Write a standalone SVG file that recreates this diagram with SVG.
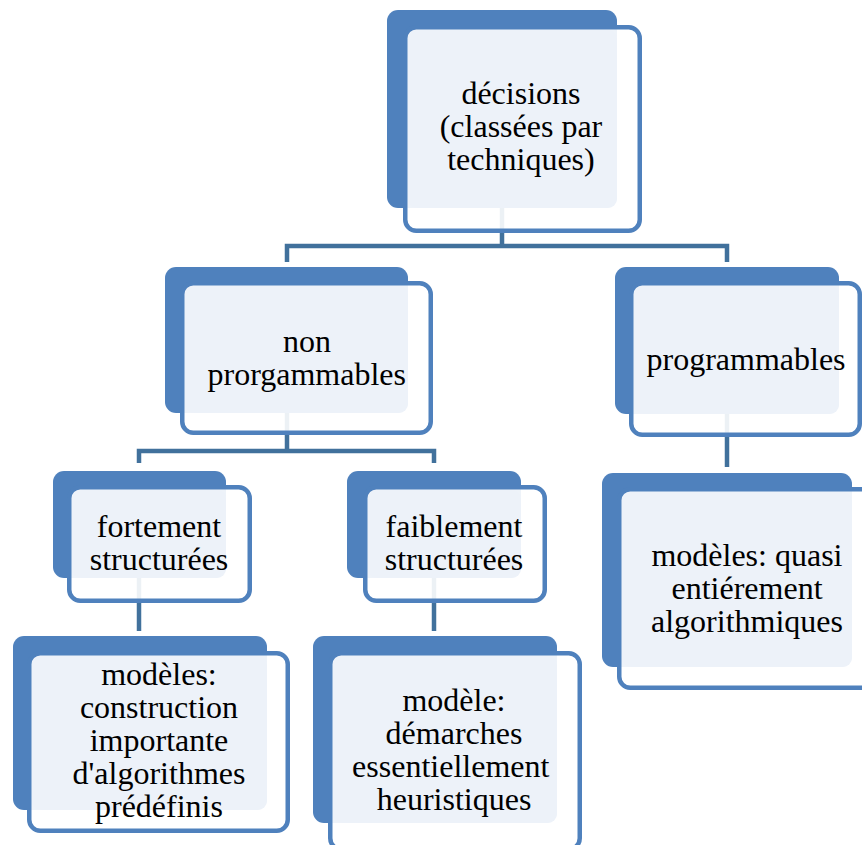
<svg xmlns="http://www.w3.org/2000/svg" width="862" height="845" viewBox="0 0 862 845">
  <style>
    .back { fill: #4f81bd; }
    .frame { fill: #ffffff; fill-opacity: 0.9; stroke: #4f81bd; stroke-width: 4.5; }
    .inner { fill: #edf2f9; }
    .conn { fill: none; stroke: #41719c; stroke-width: 4.5; }
  </style>
  <rect width="862" height="845" fill="#ffffff"/>

  <!-- elbow connectors between the node boxes -->
  <g id="connectors">
    <path class="conn" d="M502 208 V246 M287 262 V246 H727 V262"/>
    <path class="conn" d="M287 413 V451 M139 463 V451 H434 V463"/>
    <path class="conn" d="M139 578 V631"/>
    <path class="conn" d="M434 578 V631"/>
    <path class="conn" d="M727 414 V467"/>
  </g>

  <!-- each node: solid back plate, outlined frame, pale text panel -->
  <g id="decisions">
    <rect class="back" x="387" y="10" width="230" height="198" rx="11"/>
    <rect class="frame" x="405.25" y="27.25" width="234.5" height="203.5" rx="11"/>
    <rect class="inner" x="408" y="30" width="209" height="178" rx="9"/>
    <text x="461.4" y="104" style="font-family: 'Liberation Serif', serif; font-size: 32px">décisions</text>
    <text x="439.7" y="137" style="font-family: 'Liberation Serif', serif; font-size: 32px">(classées par</text>
    <text x="447.2" y="170" style="font-family: 'Liberation Serif', serif; font-size: 32px">techniques)</text>
  </g>

  <g id="non-programmables">
    <rect class="back" x="165" y="267" width="243" height="146" rx="11"/>
    <rect class="frame" x="182.25" y="283.25" width="248.5" height="149.5" rx="11"/>
    <rect class="inner" x="185" y="286" width="223" height="127" rx="9"/>
    <text x="283" y="352" style="font-family: 'Liberation Serif', serif; font-size: 32px">non</text>
    <text x="207.5" y="385" style="font-family: 'Liberation Serif', serif; font-size: 32px">prorgammables</text>
  </g>

  <g id="programmables">
    <rect class="back" x="615" y="267" width="224" height="147" rx="11"/>
    <rect class="frame" x="631.25" y="283.25" width="228.5" height="151.5" rx="11"/>
    <rect class="inner" x="634" y="286" width="205" height="128" rx="9"/>
    <text x="646.5" y="370" style="font-family: 'Liberation Serif', serif; font-size: 32px">programmables</text>
  </g>

  <g id="fortement">
    <rect class="back" x="53" y="471" width="173" height="107" rx="11"/>
    <rect class="frame" x="69.25" y="487.25" width="180.5" height="113.5" rx="11"/>
    <rect class="inner" x="72" y="490" width="154" height="88" rx="9"/>
    <text x="96.8" y="537" style="font-family: 'Liberation Serif', serif; font-size: 32px">fortement</text>
    <text x="89.7" y="570" style="font-family: 'Liberation Serif', serif; font-size: 32px">structurées</text>
  </g>

  <g id="faiblement">
    <rect class="back" x="347" y="471" width="174" height="107" rx="11"/>
    <rect class="frame" x="365.25" y="487.25" width="179.5" height="113.5" rx="11"/>
    <rect class="inner" x="368" y="490" width="153" height="88" rx="9"/>
    <text x="385.6" y="537" style="font-family: 'Liberation Serif', serif; font-size: 32px">faiblement</text>
    <text x="384.7" y="570" style="font-family: 'Liberation Serif', serif; font-size: 32px">structurées</text>
  </g>

  <g id="modeles-construction">
    <rect class="back" x="13" y="636" width="254" height="174" rx="11"/>
    <rect class="frame" x="29.25" y="653.25" width="258.5" height="177.5" rx="11"/>
    <rect class="inner" x="32" y="656" width="235" height="154" rx="9"/>
    <text x="101.2" y="685" style="font-family: 'Liberation Serif', serif; font-size: 32px">modèles:</text>
    <text x="79.9" y="718" style="font-family: 'Liberation Serif', serif; font-size: 32px">construction</text>
    <text x="89.7" y="751" style="font-family: 'Liberation Serif', serif; font-size: 32px">importante</text>
    <text x="72.6" y="784" style="font-family: 'Liberation Serif', serif; font-size: 32px">d'algorithmes</text>
    <text x="95" y="817" style="font-family: 'Liberation Serif', serif; font-size: 32px">prédéfinis</text>
  </g>

  <g id="modele-heuristiques">
    <rect class="back" x="313" y="636" width="244" height="187" rx="11"/>
    <rect class="frame" x="330.25" y="653.25" width="249.5" height="196" rx="11"/>
    <rect class="inner" x="333" y="656" width="224" height="167" rx="9"/>
    <text x="402.4" y="711" style="font-family: 'Liberation Serif', serif; font-size: 32px">modèle:</text>
    <text x="385.6" y="744" style="font-family: 'Liberation Serif', serif; font-size: 32px">démarches</text>
    <text x="352.1" y="777" style="font-family: 'Liberation Serif', serif; font-size: 32px">essentiellement</text>
    <text x="376.7" y="810" style="font-family: 'Liberation Serif', serif; font-size: 32px">heuristiques</text>
  </g>

  <g id="modeles-algorithmiques">
    <rect class="back" x="602" y="473" width="250" height="194" rx="11"/>
    <rect class="frame" x="619.25" y="489.25" width="258" height="198.5" rx="11"/>
    <rect class="inner" x="622" y="492" width="230" height="175" rx="9"/>
    <text x="651.4" y="566" style="font-family: 'Liberation Serif', serif; font-size: 32px">modèles: quasi</text>
    <text x="671.5" y="599" style="font-family: 'Liberation Serif', serif; font-size: 32px">entiérement</text>
    <text x="651" y="632" style="font-family: 'Liberation Serif', serif; font-size: 32px">algorithmiques</text>
  </g>
</svg>
